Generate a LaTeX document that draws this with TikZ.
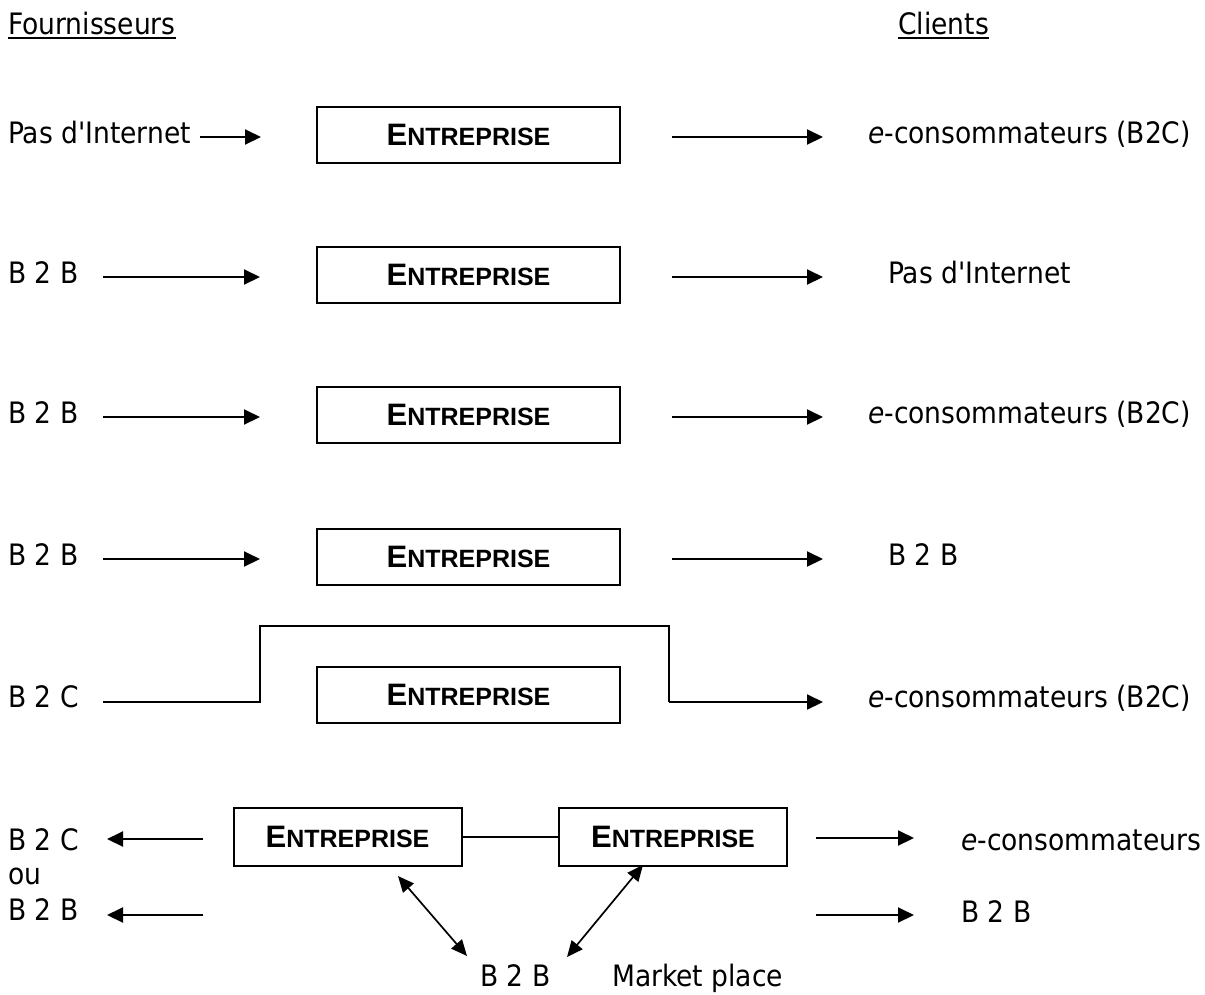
\documentclass[tikz,border=0pt]{standalone}
\usepackage{fontspec}
\setmainfont{DejaVu Sans Condensed}
\newfontfamily\boxfont{Liberation Sans}
\usetikzlibrary{arrows.meta}

% company name in bold with a large initial
\newcommand{\entname}{{\boxfont\bfseries\fontsize{31}{34}\selectfont E\fontsize{25}{28}\selectfont NTREPRISE}}
\newcommand{\noint}{Pas d\textquotesingle Internet}

\begin{document}
\begin{tikzpicture}[x=1pt,y=-1pt,
  txt/.style={anchor=base west, inner sep=0pt, font=\fontsize{29.5}{34}\selectfont},
  ent/.style={draw, line width=2pt, minimum width=303pt, minimum height=56pt, inner sep=0pt},
  entsmall/.style={ent, minimum width=228pt, minimum height=58pt},
  ln/.style={line width=2pt},
  arr/.style={line width=2pt, -{Triangle[length=16pt,width=15pt]}},
  darr/.style={line width=1.7pt, {Triangle[length=16pt,width=14pt]}-{Triangle[length=16pt,width=14pt]}}
]
\useasboundingbox (0,0) rectangle (1205,994);

% column headings
\node[txt] (four) at (8,34) {Fournisseurs};
\node[txt] (cli) at (898,34) {Clients};
\draw[line width=1.6pt] ([yshift=-4pt]four.base west) -- ([yshift=-4pt]four.base east);
\draw[line width=1.6pt] ([yshift=-4pt]cli.base west) -- ([yshift=-4pt]cli.base east);

% row 1
\node[txt] (s1) at (8,143) {\noint};
\node[ent] (e1) at (468.5,135) {\entname};
\node[txt] (c1) at (868,143) {\textit{e}-consommateurs (B2C)};
\coordinate (a1) at (200,137); \coordinate (b1) at (261,137);
\coordinate (p1) at (672,137); \coordinate (q1) at (823,137);
\draw[arr] (a1) -- (b1);
\draw[arr] (p1) -- (q1);

% row 2
\node[txt] (s2) at (8,283) {B 2 B};
\node[ent] (e2) at (468.5,275) {\entname};
\node[txt] (c2) at (888,283) {\noint};
\coordinate (a2) at (103,277); \coordinate (b2) at (260,277);
\coordinate (p2) at (672,277); \coordinate (q2) at (823,277);
\draw[arr] (a2) -- (b2);
\draw[arr] (p2) -- (q2);

% row 3
\node[txt] (s3) at (8,423) {B 2 B};
\node[ent] (e3) at (468.5,415) {\entname};
\node[txt] (c3) at (868,423) {\textit{e}-consommateurs (B2C)};
\coordinate (a3) at (103,417); \coordinate (b3) at (260,417);
\coordinate (p3) at (672,417); \coordinate (q3) at (823,417);
\draw[arr] (a3) -- (b3);
\draw[arr] (p3) -- (q3);

% row 4
\node[txt] (s4) at (8,565) {B 2 B};
\node[ent] (e4) at (468.5,557) {\entname};
\node[txt] (c4) at (888,565) {B 2 B};
\coordinate (a4) at (103,559); \coordinate (b4) at (260,559);
\coordinate (p4) at (672,559); \coordinate (q4) at (823,559);
\draw[arr] (a4) -- (b4);
\draw[arr] (p4) -- (q4);

% row 5: flow bypassing the company
\node[txt] (s5) at (8,707) {B 2 C};
\node[ent] (e5) at (468.5,695) {\entname};
\node[txt] (c5) at (868,707) {\textit{e}-consommateurs (B2C)};
\coordinate (a5) at (103,702); \coordinate (k1) at (260,702);
\coordinate (k2) at (260,626); \coordinate (k3) at (669,626);
\coordinate (k4) at (669,702); \coordinate (q5) at (823,702);
\draw[ln] (a5) -- (k1) -- (k2) -- (k3) -- (k4);
\draw[arr] (k4) -- (q5);

% row 6: two companies and a market place
\node[txt] (s6) at (8,850) {B 2 C};
\node[txt] (ou) at (8,884) {ou};
\node[txt] (s7) at (8,920) {B 2 B};
\node[entsmall] (ea) at (347.5,837) {\entname};
\node[entsmall] (eb) at (673,837) {\entname};
\node[txt] (c6) at (961,850) {\textit{e}-consommateurs};
\node[txt] (c7) at (961,922) {B 2 B};
\node[txt] (mb) at (480,986) {B 2 B};
\node[txt] (mp) at (612,986) {Market place};
\draw[line width=1.7pt] (ea.east) -- (eb.west);
\coordinate (l1) at (203,839); \coordinate (m1) at (107,839);
\coordinate (l2) at (203,915); \coordinate (m2) at (107,915);
\draw[arr] (l1) -- (m1);
\draw[arr] (l2) -- (m2);
\coordinate (r1) at (816,838); \coordinate (t1) at (914,838);
\coordinate (r2) at (816,915); \coordinate (t2) at (914,915);
\draw[arr] (r1) -- (t1);
\draw[arr] (r2) -- (t2);
\coordinate (d1) at (398,876); \coordinate (d2) at (467,956);
\coordinate (d3) at (643,865); \coordinate (d4) at (567,957);
\draw[darr] (d1) -- (d2);
\draw[darr] (d3) -- (d4);
\end{tikzpicture}
\end{document}
